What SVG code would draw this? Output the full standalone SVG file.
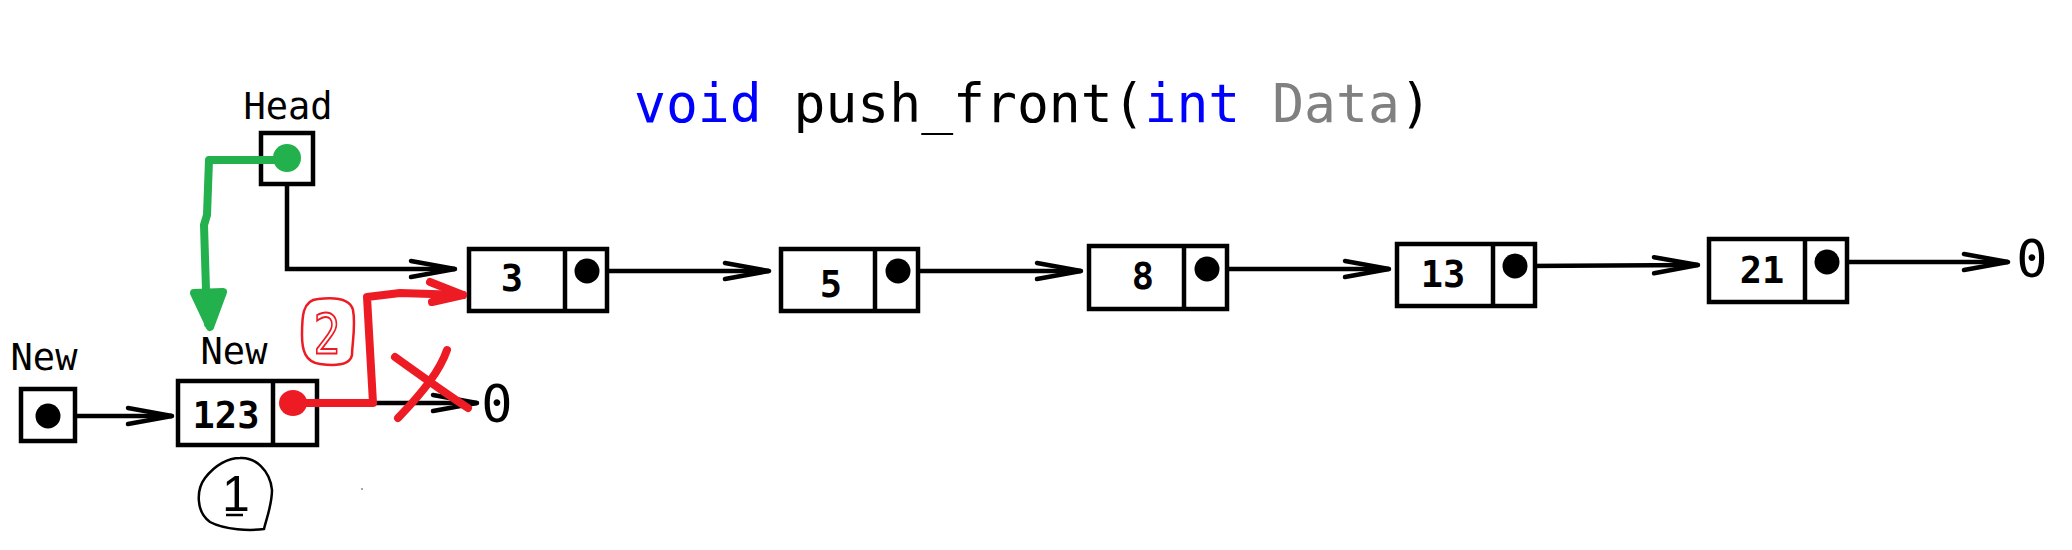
<svg xmlns="http://www.w3.org/2000/svg" width="2072" height="550" viewBox="0 0 2072 550">
<style>
.box{fill:#fff;stroke:#000;stroke-width:4.5}
.div{stroke:#000;stroke-width:4.5}
.dot{fill:#000}
.val{font-family:"DejaVu Sans Mono","Liberation Mono",monospace;font-weight:bold;font-size:37px;text-anchor:middle;fill:#000}
.lbl{font-family:"DejaVu Sans Mono","Liberation Mono",monospace;font-size:37px;text-anchor:middle;fill:#000}
.zero{font-family:"DejaVu Sans Mono","Liberation Mono",monospace;font-size:52px;text-anchor:middle;fill:#000}
.link{fill:none;stroke:#000;stroke-width:4.5;marker-end:url(#arr)}
.red{fill:none;stroke:#ed1c24;stroke-width:8;stroke-linecap:round;stroke-linejoin:round}
.green{fill:none;stroke:#22b14c;stroke-width:8;stroke-linecap:round;stroke-linejoin:round}
</style>
<defs>
<marker id="arr" markerUnits="userSpaceOnUse" viewBox="-50 -14 56 28" refX="0" refY="0" markerWidth="56" markerHeight="28" orient="auto" overflow="visible">
<path d="M-44,-8 L0,0 L-44,8" fill="none" stroke="#000" stroke-width="4.5" stroke-linecap="round" stroke-linejoin="round"/>
</marker>
</defs>
<rect width="2072" height="550" fill="#fff"/>

<text id="title" x="634" y="122" font-family="'DejaVu Sans Mono','Liberation Mono',monospace" font-size="53" fill="#000"><tspan fill="#0000ff">void</tspan> push_front(<tspan fill="#0000ff">int</tspan> <tspan fill="#808080">Data</tspan>)</text>

<g id="connectors">
<path class="link" d="M287,173 V269 H455"/>
<path class="link" d="M587,271 H769"/>
<path class="link" d="M898,271 H1081"/>
<path class="link" d="M1207,269 H1389"/>
<path class="link" d="M1515,266 L1698,265"/>
<path class="link" d="M1827,262 H2008"/>
<path class="link" d="M48,416 H172"/>
<path class="link" d="M293,403 H477"/>
</g>

<g id="node-head">
<text class="lbl" x="288" y="119">Head</text>
<rect class="box" x="261" y="133" width="52" height="51"/>
</g>

<g id="node-new-ptr">
<text class="lbl" x="44" y="370">New</text>
<rect class="box" x="21" y="389" width="54" height="52"/>
<circle class="dot" cx="48" cy="416" r="12.5"/>
</g>

<g id="node-123">
<text class="lbl" x="234" y="364">New</text>
<rect class="box" x="178" y="381" width="139" height="64"/>
<line class="div" x1="273" y1="381" x2="273" y2="445"/>
<text class="val" x="226" y="428">123</text>
</g>

<g id="node-3">
<rect class="box" x="469" y="249" width="138" height="62"/>
<line class="div" x1="565" y1="249" x2="565" y2="311"/>
<text class="val" x="512" y="291">3</text>
<circle class="dot" cx="587" cy="271" r="12.5"/>
</g>

<g id="node-5">
<rect class="box" x="781" y="249" width="137" height="62"/>
<line class="div" x1="875" y1="249" x2="875" y2="311"/>
<text class="val" x="831" y="297">5</text>
<circle class="dot" cx="898" cy="271" r="12.5"/>
</g>

<g id="node-8">
<rect class="box" x="1089" y="246" width="138" height="63"/>
<line class="div" x1="1184" y1="246" x2="1184" y2="309"/>
<text class="val" x="1143" y="289">8</text>
<circle class="dot" cx="1207" cy="269" r="12.5"/>
</g>

<g id="node-13">
<rect class="box" x="1397" y="244" width="138" height="62"/>
<line class="div" x1="1493" y1="244" x2="1493" y2="306"/>
<text class="val" x="1443" y="287">13</text>
<circle class="dot" cx="1515" cy="266" r="12.5"/>
</g>

<g id="node-21">
<rect class="box" x="1709" y="239" width="138" height="63"/>
<line class="div" x1="1805" y1="239" x2="1805" y2="302"/>
<text class="val" x="1762" y="283">21</text>
<circle class="dot" cx="1827" cy="262" r="12.5"/>
</g>

<g id="null-right"><text class="zero" x="2032" y="277">0</text></g>
<g id="null-left"><text class="zero" x="497" y="422">0</text></g>

<g id="annotation-green">
<path class="green" d="M280,160 H209 L207,215 L204,225 L206,290 L210,326"/>
<path class="green" d="M194,293 L210,327 L223,292 Z M202,293 L208,324 M214,293 L211,324"/>
<ellipse cx="287" cy="158" rx="14" ry="14" fill="#22b14c"/>
</g>

<g id="annotation-red">
<ellipse cx="293" cy="403" rx="14" ry="13" fill="#ed1c24"/>
<path class="red" d="M293,403 H373 L367,297 L400,293 L463,295"/>
<path class="red" d="M430,282 L463,295 L432,302"/>
<path class="red" d="M395,357 C420,375 445,393 468,408"/>
<path class="red" d="M447,350 C440,370 425,390 398,418"/>
<path d="M318,299 C335,297 350,298 353,310 C356,325 352,345 352,355 C350,365 335,366 320,364 C305,362 302,350 302,335 C302,318 302,300 318,299 Z" fill="none" stroke="#ed1c24" stroke-width="2.5"/>
<text transform="translate(327,353) scale(0.8,1)" font-family="'DejaVu Sans Mono','Liberation Mono',monospace" font-size="56" text-anchor="middle" fill="none" stroke="#ed1c24" stroke-width="2">2</text>
</g>

<g id="annotation-step1">
<path d="M240,458 C255,457 270,470 272,490 C272,505 266,520 264,529 C250,531 225,530 210,522 C196,512 196,490 205,478 C215,465 228,458 240,458 Z" fill="none" stroke="#000" stroke-width="2.5"/>
<text x="236" y="511" font-family="'Liberation Sans',sans-serif" font-size="50" text-anchor="middle" fill="#000">1</text>
<line x1="226" y1="515" x2="243" y2="515" stroke="#000" stroke-width="2.5"/>
<circle cx="362" cy="489" r="1" fill="#888"/>
</g>
</svg>
